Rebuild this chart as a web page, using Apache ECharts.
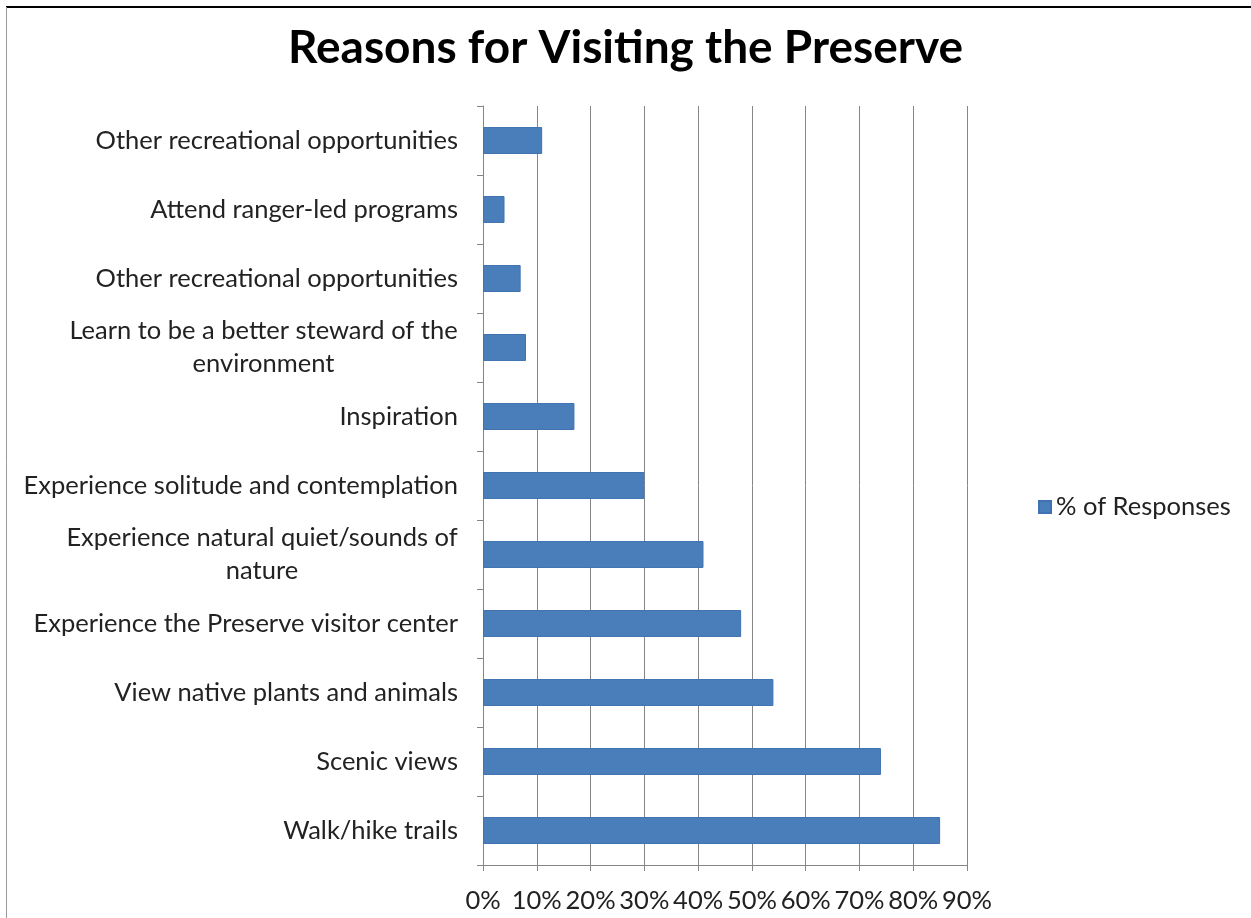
<!DOCTYPE html>
<html>
<head>
<meta charset="utf-8">
<script src="https://cdn.jsdelivr.net/npm/echarts@6/dist/echarts.min.js"></script>
<style>html,body{margin:0;padding:0;background:#fff;}#c{width:1251px;height:918px;}</style>
</head>
<body>
<div id="c"></div>
<script>
const titleText = 'Reasons for Visiting the Preserve';
const seriesName = '% of Responses';
const categories = [
  'Other recreational opportunities',
  'Attend ranger-led programs',
  'Other recreational opportunities',
  'Learn to be a better steward of the\nenvironment',
  'Inspiration',
  'Experience solitude and contemplation',
  'Experience natural quiet/sounds of\nnature',
  'Experience the Preserve visitor center',
  'View native plants and animals',
  'Scenic views',
  'Walk/hike trails'
];
const values = [11, 4, 7, 8, 17, 30, 41, 48, 54, 74, 85];
const xTicks = [0, 10, 20, 30, 40, 50, 60, 70, 80, 90];

const FONT = 'Lato';
const LABEL_SIZE = 25.5;
const measureCtx = document.createElement('canvas').getContext('2d');
measureCtx.font = LABEL_SIZE + 'px ' + FONT;

const chart = echarts.init(document.getElementById('c'), null, {renderer: 'canvas'});
chart.setOption({
  backgroundColor: '#fff',
  animation: false,
  title: {
    text: titleText, left: 'center', top: 20,
    textStyle: {fontFamily: FONT, fontWeight: 'bold', fontSize: 46, color: '#000'}
  },
  legend: {
    left: 1033, top: 489, orient: 'vertical',
    itemWidth: 12, itemHeight: 12, itemGap: 8,
    icon: 'rect',
    textStyle: {fontFamily: FONT, fontSize: LABEL_SIZE, color: '#222'},
    data: [seriesName]
  },
  grid: {left: 483, right: 284, top: 106, bottom: 53},
  xAxis: {
    type: 'value', min: xTicks[0], max: xTicks[xTicks.length - 1], interval: 10,
    axisLine: {show: true, lineStyle: {color: '#868686'}},
    axisTick: {show: true, length: 6, lineStyle: {color: '#868686'}},
    splitLine: {show: true, lineStyle: {color: '#868686', width: 1}},
    axisLabel: {formatter: '{value}%', fontFamily: FONT, fontSize: LABEL_SIZE, color: '#222', margin: 23}
  },
  yAxis: {
    type: 'category', inverse: true, data: categories,
    axisLine: {show: true, lineStyle: {color: '#868686'}},
    axisTick: {show: true, length: 6, lineStyle: {color: '#868686'}},
    axisLabel: {
      fontFamily: FONT, fontSize: LABEL_SIZE, color: '#222', margin: 25, lineHeight: 33,
      formatter: function (v) {
        if (v.indexOf('\n') >= 0) {
          const lines = v.split('\n');
          const w = Math.ceil(Math.max.apply(null, lines.map(l => measureCtx.measureText(l).width)));
          return lines.map(l => '{w' + w + '|' + l + '}').join('\n');
        }
        return v;
      },
      rich: (function () {
        const r = {};
        for (let w = 200; w <= 500; w++) {
          r['w' + w] = {width: w, align: 'center', fontFamily: FONT, fontSize: LABEL_SIZE, color: '#222', lineHeight: 33};
        }
        return r;
      })()
    }
  },
  series: [{
    name: seriesName, type: 'bar', data: values,
    barCategoryGap: '61%',
    itemStyle: {color: '#4A7EBB', borderColor: '#3F72B0', borderWidth: 1}
  }],
  graphic: [
    {type: 'line', shape: {x1: 6, y1: 7, x2: 1251, y2: 7}, style: {stroke: '#000', lineWidth: 2}},
    {type: 'line', shape: {x1: 6.5, y1: 7, x2: 6.5, y2: 918}, style: {stroke: '#999', lineWidth: 1}}
  ]
});
</script>
</body>
</html>
